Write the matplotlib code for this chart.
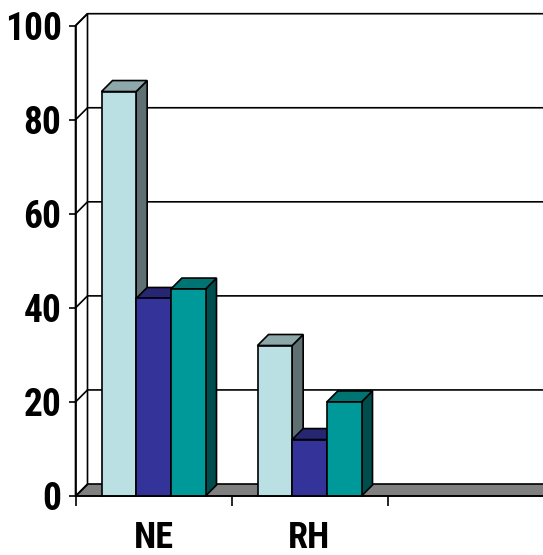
import matplotlib
matplotlib.use("Agg")
import matplotlib.pyplot as plt
from matplotlib.patches import Polygon
from matplotlib import font_manager

categories = ["NE", "RH", ""]
series_a = [86, 32, 0]
series_b = [42, 12, 0]
series_c = [44, 20, 0]
y_ticks = [0, 20, 40, 60, 80, 100]

front_colors = ["#BBE0E3", "#333399", "#009999"]

names = {f.name for f in font_manager.fontManager.ttflist}
family = "Liberation Sans"
for cand in ["Liberation Sans Narrow", "Arial Narrow", "Roboto Condensed",
             "Archivo Narrow", "PT Sans Narrow", "Open Sans Condensed"]:
    if cand in names:
        family = cand
        break

W, H = 543, 555
fig = plt.figure(figsize=(W / 100, H / 100), dpi=100)
# front plane: x 75.5..543.5 px, value 0 at y=496, value 100 at y=25.7
ax = fig.add_axes([75.5 / W, (H - 496) / H, 468 / W, (496 - 25.7) / H])
ax.set_xlim(0, 3)
ax.set_ylim(0, 100)

px_x = 3 / 468.0
px_y = 100 / (496 - 25.7)
wall_dx, wall_dy = 12 * px_x, 12 * px_y
bar_dx, bar_dy = 11 * px_x, 11 * px_y


def shade(c, k):
    r, g, b = matplotlib.colors.to_rgb(c)
    return (r * k, g * k, b * k)


def poly(pts, fc, z):
    ax.add_patch(Polygon(pts, closed=True, facecolor=fc, edgecolor="black",
                         lw=1.2, zorder=z, clip_on=False, joinstyle="miter"))


# side wall and floor
poly([(0, 0), (wall_dx, wall_dy), (wall_dx, 100 + wall_dy), (0, 100)], "white", 1)
poly([(0, 0), (3.2, 0), (3.2, wall_dy), (wall_dx, wall_dy)], "#808080", 2)

# gridlines on the side wall and back wall
for v in y_ticks[1:]:
    ax.plot([0, wall_dx, 3.2], [v, v + wall_dy, v + wall_dy], color="black",
            lw=1.2, zorder=1.5, clip_on=False)

# bars
gap = 1 / 6
w = (1 - 2 * gap) / 3
z = 3
for i in range(len(categories)):
    for j, vals in enumerate([series_a, series_b, series_c]):
        v = vals[i]
        if v <= 0:
            continue
        x0 = i + gap + j * w
        fc = front_colors[j]
        poly([(x0 + w, 0), (x0 + w + bar_dx, bar_dy), (x0 + w + bar_dx, v + bar_dy),
              (x0 + w, v)], shade(fc, 0.5), z)
        poly([(x0, v), (x0 + w, v), (x0 + w + bar_dx, v + bar_dy),
              (x0 + bar_dx, v + bar_dy)], shade(fc, 0.75), z)
        poly([(x0, 0), (x0 + w, 0), (x0 + w, v), (x0, v)], fc, z)
        z += 1

for s in ["top", "right"]:
    ax.spines[s].set_visible(False)
ax.spines["left"].set_linewidth(1.2)
ax.spines["bottom"].set_linewidth(1.2)
ax.spines["left"].set_zorder(20)
ax.spines["bottom"].set_zorder(20)
ax.patch.set_visible(False)

ax.set_yticks(y_ticks)
ax.set_yticklabels([str(t) for t in y_ticks])
ax.tick_params(axis="y", length=5, width=1.2, pad=5, labelsize=27)
ax.set_xticks([0, 1, 2, 3])
ax.set_xticklabels([])
ax.set_xticks([0.5, 1.5, 2.5], minor=True)
ax.set_xticklabels(categories, minor=True)
ax.tick_params(axis="x", which="major", length=7, width=1.2)
ax.tick_params(axis="x", which="minor", length=0, pad=17, labelsize=26)
for lab in ax.get_yticklabels() + ax.get_xticklabels(minor=True):
    lab.set_fontfamily(family)
    lab.set_fontweight("bold")

fig.savefig("out.png", dpi=100)
